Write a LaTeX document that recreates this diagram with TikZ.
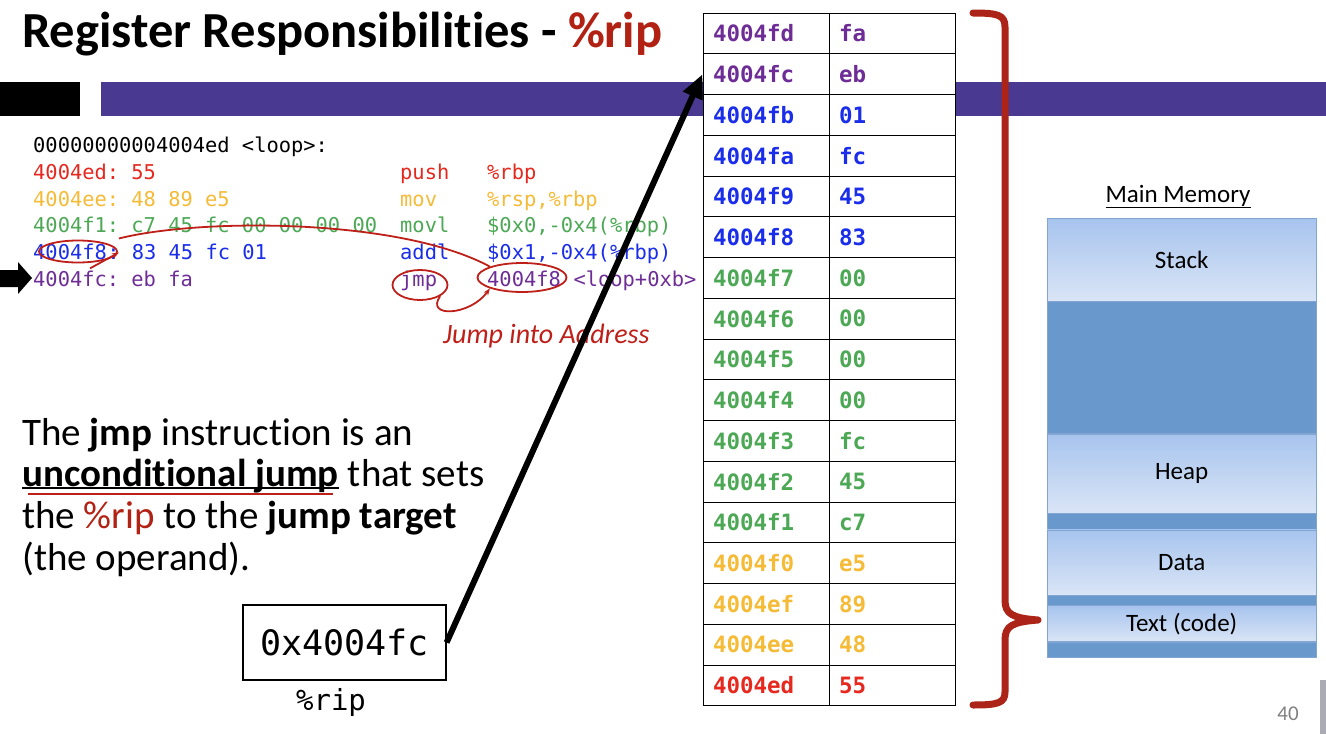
\documentclass[tikz,border=0pt]{standalone}
\usepackage{fontspec}
\setmainfont{Carlito}[Ligatures=NoCommon]
\setmonofont{DejaVu Sans Mono}
\usetikzlibrary{arrows.meta,shapes.geometric}
\definecolor{cred}{RGB}{230,40,30}
\definecolor{corange}{RGB}{245,187,55}
\definecolor{cgreen}{RGB}{76,168,85}
\definecolor{cblue}{RGB}{25,45,235}
\definecolor{cpurple}{RGB}{110,45,150}
\definecolor{ripred}{RGB}{178,34,20}
\definecolor{penred}{RGB}{190,32,25}
\definecolor{bracered}{RGB}{172,35,24}
\definecolor{barpurple}{RGB}{74,57,145}
\definecolor{memdark}{RGB}{104,152,204}
\definecolor{memtop}{RGB}{167,196,238}
\definecolor{membot}{RGB}{218,229,246}
\definecolor{memedge}{RGB}{130,165,210}
\newcommand\codett{\fontsize{20.4pt}{24pt}\selectfont\ttfamily}
\newcommand\celltt{\fontsize{22.5pt}{26pt}\selectfont\ttfamily\bfseries}

\begin{document}
\begin{tikzpicture}[x=1pt, y=-1pt,
    code/.style={anchor=base west, inner sep=0pt, font=\codett},
    addrcell/.style={draw, fill=white, line width=1pt, minimum height=40.76pt, text width=106pt,
      inner xsep=10pt, inner ysep=0pt, align=left, font=\celltt},
    memlite/.style={draw=memedge, top color=memtop, bottom color=membot, minimum width=269pt,
      anchor=north west, inner sep=0pt, font=\fontsize{25pt}{28pt}\selectfont},
    memdark/.style={draw=memedge, fill=memdark, minimum width=269pt, anchor=north west, inner sep=0pt},
    pen/.style={penred, line width=1.8pt},
    body/.style={anchor=base west, inner sep=0pt, font=\fontsize{39pt}{42pt}\selectfont}]
  \useasboundingbox (0,0) rectangle (1326,734);
  \fill[white] (0,0) rectangle (1326,734);

  \node[anchor=base west, inner sep=0pt, font=\fontsize{50.5pt}{58pt}\selectfont\bfseries]
    (title) at (22,47) {Register Responsibilities - \textcolor{ripred}{\%rip}};
  \fill (0,82) rectangle (80,116);
  \fill[barpurple] (101,82) rectangle (1326,116);

  \node[code] (hdr) at (33,152.5) {00000000004004ed <loop>:};
  \node[code, text=cred] (r1a) at (33,179) {4004ed: 55};
  \node[code, text=cred] (r1m) at (400,179) {push};
  \node[code, text=cred] (r1o) at (487,179) {\%rbp};
  \node[code, text=corange] (r2a) at (33,206) {4004ee: 48 89 e5};
  \node[code, text=corange] (r2m) at (400,206) {mov};
  \node[code, text=corange] (r2o) at (487,206) {\%rsp,\%rbp};
  \node[code, text=cgreen] (r3a) at (33,232.5) {4004f1: c7 45 fc 00 00 00 00};
  \node[code, text=cgreen] (r3m) at (400,232.5) {movl};
  \node[code, text=cgreen] (r3o) at (487,232.5) {\$0x0,-0x4(\%rbp)};
  \node[code, text=cblue] (r4a) at (33,259) {4004f8};
  \node[code, text=cblue] (r4b) at (r4a.base east) {: 83 45 fc 01};
  \node[code, text=cblue] (r4m) at (400,259) {addl};
  \node[code, text=cblue] (r4o) at (487,259) {\$0x1,-0x4(\%rbp)};
  \node[code, text=cpurple] (r5a) at (33,286) {4004fc: eb fa};
  \node[code, text=cpurple] (r5m) at (400,286) {jmp};
  \node[code, text=cpurple] (r5o) at (487,286) {4004f8};
  \node[code, text=cpurple] (r5b) at (r5o.base east) {\ <loop+0xb>};
  \fill (0,270) -- (18,270) -- (18,262) -- (32,278) -- (18,294) -- (18,287) -- (0,287) -- cycle;

  \node[pen, ellipse, draw, minimum width=78pt, minimum height=22pt] (c1) at (78,251.5) {};
  \node[pen, ellipse, draw, minimum width=55pt, minimum height=30pt] (c2) at (420,285) {};
  \node[pen, ellipse, draw, minimum width=89pt, minimum height=29pt] (c3) at (522,277.5) {};
  \draw[pen] ([shift={(1,-13)}]c1.east) .. controls (200,218) and (400,218) .. (c3.north west);
  \draw[pen, -{Stealth[length=7pt]}] ([shift={(12,5)}]c1.south) -- ([shift={(1,1)}]c1.east);
  \draw[pen, -{Stealth[length=7pt]}] (c2.south east) .. controls (425,318) and (470,316) .. (c3.south west);
  \node[anchor=base west, inner sep=0pt, text=penred, font=\fontsize{28pt}{30pt}\selectfont\itshape]
    (jnote) at (443,343) {Jump into Address};

  \foreach \ad/\by/\col [count=\i] in {4004fd/fa/cpurple, 4004fc/eb/cpurple, 4004fb/01/cblue,
      4004fa/fc/cblue, 4004f9/45/cblue, 4004f8/83/cblue, 4004f7/00/cgreen, 4004f6/00/cgreen,
      4004f5/00/cgreen, 4004f4/00/cgreen, 4004f3/fc/cgreen, 4004f2/45/cgreen, 4004f1/c7/cgreen,
      4004f0/e5/corange, 4004ef/89/corange, 4004ee/48/corange, 4004ed/55/cred}
  {
    \node[addrcell, text=\col] (a\i) at (766,{13+(\i-0.5)*40.76}) {\ad};
    \node[addrcell, text=\col] (b\i) at (892,{13+(\i-0.5)*40.76}) {\by};
  }

  \draw[bracered, line width=7pt, line join=round, line cap=round]
    (973,13) .. controls (998,13) and (1005,15) .. (1005,27) -- (1005,600)
    .. controls (1005,614) and (1012,618) .. (1038,620)
    .. controls (1012,622) and (1005,626) .. (1005,640) -- (1005,692)
    .. controls (1005,703) and (998,705) .. (973,705);

  \node[font=\fontsize{25pt}{28pt}\selectfont, anchor=base] (mmlbl) at (1178,202) {\underline{Main Memory}};
  \node[memlite, minimum height=83pt] (mstack) at (1047,218) {Stack};
  \node[memdark, minimum height=132pt] (mfree) at (mstack.south west) {};
  \node[memlite, minimum height=79pt] (mheap) at (mfree.south west) {Heap};
  \node[memdark, minimum height=16pt] (mgap1) at (mheap.south west) {};
  \node[memlite, minimum height=65pt] (mdata) at (mgap1.south west) {Data};
  \node[memdark, minimum height=10pt] (mgap2) at (mdata.south west) {};
  \node[memlite, minimum height=36pt] (mtext) at (mgap2.south west) {Text (code)};
  \node[memdark, minimum height=15pt] (mgap3) at (mtext.south west) {};

  \node[body] (txt1) at (22,445) {The \textbf{jmp} instruction is an};
  \node[body] (txt2a) at (22,486) {\textbf{unconditional jump}};
  \node[body] (txt2b) at (txt2a.base east) {\ that sets};
  \node[body] (txt3) at (22,528) {the \textcolor{ripred}{\%rip} to the \textbf{jump target}};
  \node[body] (txt4) at (22,570) {(the operand).};
  \draw[line width=1.8pt] ([yshift=-2pt]txt2a.base west) -- ([yshift=-2pt]txt2a.base east);
  \draw[penred, line width=1.3pt] ([shift={(6,8)}]txt2a.base west) -- ([shift={(-6,8)}]txt2a.base east);

  \node[draw, line width=1.2pt, minimum width=203pt, minimum height=75pt, inner sep=0pt,
    font=\fontsize{35pt}{40pt}\selectfont\ttfamily] (rip) at (344.5,642.5) {0x4004fc};
  \node[anchor=base, inner sep=0pt, font=\fontsize{29pt}{32pt}\selectfont\ttfamily] (riplbl) at (331,710) {\%rip};

  \draw[line width=6pt, -{Triangle[length=24pt,width=20pt]}] (rip.east) -- (a2.west);

  \node[anchor=base, text=gray, font=\fontsize{21pt}{24pt}\selectfont] (pgno) at (1288,720) {40};
  \fill[black!25!blue!10!gray!60] (1320,680) rectangle (1326,734);
\end{tikzpicture}
\end{document}
